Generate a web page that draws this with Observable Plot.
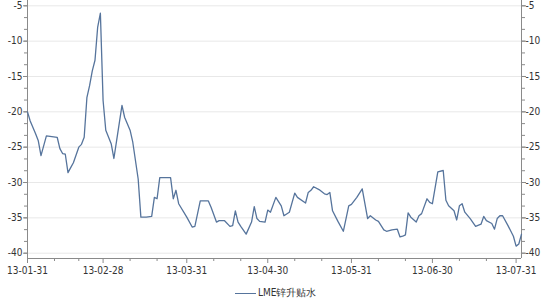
<!DOCTYPE html>
<html>
<head>
<meta charset="utf-8">
<script src="https://cdn.jsdelivr.net/npm/d3@7"></script>
<script src="https://cdn.jsdelivr.net/npm/@observablehq/plot@0.6"></script>
<style>
  html, body { margin: 0; padding: 0; background: #fff; }
  #chart { width: 550px; height: 300px; position: relative; font-family: "DejaVu Sans Condensed", "DejaVu Sans", sans-serif; font-stretch: condensed; }
  #legend { position: absolute; left: 235px; top: 285px; height: 16px; display: flex; align-items: center; font-size: 10px; color: #333; }
  #legend .sw { width: 21px; height: 0; border-top: 1.5px solid #56749c; margin-right: 2px; }
</style>
</head>
<body>
<div id="chart"></div>
<script>
// ---- data ----
const seriesName = "LME锌升贴水";
const dates = [
  "2013-01-31","2013-02-01","2013-02-03","2013-02-04","2013-02-05","2013-02-07","2013-02-09","2013-02-11","2013-02-12","2013-02-13","2013-02-14","2013-02-15","2013-02-16","2013-02-17","2013-02-19","2013-02-20","2013-02-21","2013-02-22","2013-02-23","2013-02-24","2013-02-25","2013-02-26","2013-02-27","2013-02-28",
  "2013-03-01","2013-03-03","2013-03-04","2013-03-05","2013-03-07","2013-03-08","2013-03-10","2013-03-11","2013-03-13","2013-03-14","2013-03-16","2013-03-18","2013-03-19","2013-03-20","2013-03-21","2013-03-23","2013-03-25","2013-03-26","2013-03-27","2013-03-28","2013-03-31",
  "2013-04-02","2013-04-03","2013-04-05","2013-04-08","2013-04-09","2013-04-11","2013-04-12","2013-04-14","2013-04-16","2013-04-17","2013-04-18","2013-04-19","2013-04-20","2013-04-22","2013-04-24","2013-04-25","2013-04-26","2013-04-27","2013-04-29","2013-04-30",
  "2013-05-01","2013-05-03","2013-05-05","2013-05-06","2013-05-08","2013-05-10","2013-05-11","2013-05-14","2013-05-15","2013-05-16","2013-05-17","2013-05-19","2013-05-21","2013-05-22","2013-05-23","2013-05-24","2013-05-26","2013-05-28","2013-05-30","2013-05-31",
  "2013-06-02","2013-06-04","2013-06-06","2013-06-07","2013-06-09","2013-06-10","2013-06-12","2013-06-13","2013-06-15","2013-06-17","2013-06-18","2013-06-19","2013-06-20","2013-06-21","2013-06-22","2013-06-24","2013-06-25","2013-06-26","2013-06-28","2013-06-29","2013-06-30",
  "2013-07-02","2013-07-04","2013-07-05","2013-07-06","2013-07-08","2013-07-09","2013-07-10","2013-07-11","2013-07-12","2013-07-14","2013-07-16","2013-07-18","2013-07-19","2013-07-20","2013-07-22","2013-07-23","2013-07-24","2013-07-25","2013-07-26","2013-07-28","2013-07-30","2013-07-31","2013-08-01","2013-08-02"
];
const values = [
  -20.0, -21.3, -23.1, -24.1, -26.2, -23.4, -23.5, -23.6, -25.2, -25.9, -26.0, -28.6, -27.9, -27.2, -25.0, -24.6, -23.6, -18.0, -16.3, -14.2, -12.7, -8.0, -6.05, -18.4,
  -22.6, -24.5, -26.6, -24.1, -19.1, -20.8, -22.6, -24.3, -29.5, -34.9, -34.9, -34.8, -32.1, -32.3, -29.3, -29.3, -29.3, -32.3, -31.1, -33.0, -34.9,
  -36.3, -36.2, -32.6, -32.6, -33.5, -35.6, -35.4, -35.4, -36.2, -36.1, -34.0, -35.6, -36.2, -37.3, -35.6, -33.4, -35.1, -35.5, -35.6, -33.9,
  -34.2, -32.1, -33.3, -34.7, -34.2, -31.5, -32.1, -32.9, -31.4, -31.1, -30.6, -31.0, -31.6, -31.7, -31.4, -34.0, -35.5, -36.9, -33.3, -33.1,
  -32.1, -30.9, -35.1, -34.7, -35.3, -35.5, -36.7, -36.9, -36.7, -36.6, -37.7, -37.6, -37.4, -34.3, -34.9, -35.6, -34.7, -34.4, -32.3, -32.8, -33.0,
  -28.5, -28.3, -32.5, -33.3, -34.0, -35.3, -33.3, -33.0, -34.2, -35.1, -36.2, -35.9, -34.8, -35.4, -35.8, -36.6, -35.1, -34.7, -34.7, -36.1, -37.6, -39.0, -38.7, -37.3
];
const xTickLabels = ["2013-01-31","2013-02-28","2013-03-31","2013-04-30","2013-05-31","2013-06-30","2013-07-31"];
const xMinorTicks = ["2013-02-10","2013-02-19","2013-03-10","2013-03-20","2013-04-10","2013-04-20","2013-05-10","2013-05-20","2013-06-10","2013-06-20","2013-07-10","2013-07-20"];
const yTicks = [-5, -10, -15, -20, -25, -30, -35, -40];
const xDomain = ["2013-01-31", "2013-08-02"];
const yDomain = [-40.75, -4.25];

// ---- build ----
const parse = d3.utcParse("%Y-%m-%d");
const data = dates.map((d, i) => ({date: parse(d), value: values[i]}));
const xMajor = xTickLabels.map(parse);
const xMinor = xMinorTicks.map(parse);
const yMinor = d3.range(-40, -4, 5 / 3);
const fmt = d3.utcFormat("%y-%m-%d");
const axisColor = "#8a8a8a";
const textColor = "#333";

const plot = Plot.plot({
  width: 550,
  height: 282,
  marginLeft: 27,
  marginRight: 29,
  marginTop: 0,
  marginBottom: 24,
  style: {fontFamily: '"DejaVu Sans Condensed", "DejaVu Sans", sans-serif', fontSize: "10px", color: textColor, background: "#fff"},
  x: {type: "utc", domain: xDomain.map(parse), axis: null},
  y: {domain: yDomain, axis: null},
  marks: [
    Plot.ruleY(yTicks, {stroke: "#e8e8e8", strokeWidth: 1}),
    Plot.ruleX([parse(xDomain[0]), parse(xDomain[1])], {stroke: axisColor}),
    Plot.ruleY([yDomain[0]], {stroke: axisColor}),
    Plot.axisY({anchor: "left", ticks: yMinor, tickSize: 3, tickFormat: () => "", stroke: axisColor, label: null}),
    Plot.axisY({anchor: "left", ticks: yTicks, tickSize: 4, tickPadding: 1, tickFormat: d => String(d), stroke: axisColor, fill: textColor, label: null}),
    Plot.axisY({anchor: "right", ticks: yMinor, tickSize: 3, tickFormat: () => "", stroke: axisColor, label: null}),
    Plot.axisY({anchor: "right", ticks: yTicks, tickSize: 4, tickPadding: 0, tickFormat: d => String(d), stroke: axisColor, fill: textColor, label: null}),
    Plot.axisX({anchor: "bottom", ticks: xMinor, tickSize: 3, tickFormat: () => "", stroke: axisColor, label: null}),
    Plot.axisX({anchor: "bottom", ticks: xMajor, tickSize: 5, tickPadding: 3, tickFormat: fmt, stroke: axisColor, fill: textColor, label: null}),
    Plot.lineY(data, {x: "date", y: "value", stroke: "#56749c", strokeWidth: 1.3})
  ]
});
const chart = document.getElementById("chart");
chart.appendChild(plot);
const legend = document.createElement("div");
legend.id = "legend";
legend.innerHTML = '<span class="sw"></span><span></span>';
legend.lastChild.textContent = seriesName;
chart.appendChild(legend);
</script>
</body>
</html>
